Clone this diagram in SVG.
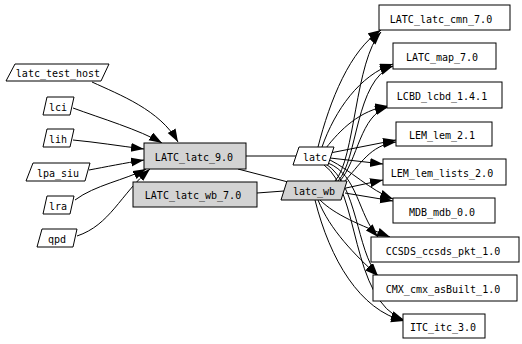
<svg xmlns="http://www.w3.org/2000/svg" width="522" height="344" viewBox="0 0 522 344">
<style>
.n{fill:#fff;stroke:#000;stroke-width:1}
.g{fill:#d3d3d3;stroke:#000;stroke-width:1}
text{font-family:"DejaVu Sans Mono","Liberation Mono",monospace;font-size:10px;fill:#000;text-anchor:middle}
.e{fill:none;stroke:#000;stroke-width:1}
.a{marker-end:url(#ah)}
</style>
<defs>
<marker id="ah" markerUnits="userSpaceOnUse" markerWidth="14" markerHeight="10" refX="13" refY="4.5" orient="auto">
<path d="M0,0 L13,4.5 L0,9 z" fill="#000"/>
</marker>
</defs>
<rect width="522" height="344" fill="#fff"/>
<g id="connectors">
<path class="e a" d="M92,82 C120,95 160,110 178,142"/>
<path class="e a" d="M73,108 C100,118 140,130 162,143"/>
<path class="e a" d="M73,140 C95,142 120,146 144,149"/>
<path class="e a" d="M89,170 C105,167 125,163 144,160"/>
<path class="e a" d="M75,200 C95,185 125,180 146,169"/>
<path class="e a" d="M77,236 C110,225 120,195 150,169"/>
<path class="e" d="M246,156 L296,156"/>
<path class="e" d="M238,169 L288,182"/>
<path class="e" d="M257,193 L284,191"/>
<path class="e a" d="M318,147 C330,100 350,50 381,30"/>
<path class="e a" d="M322,147 C335,110 360,75 393,64"/>
<path class="e a" d="M326,148 C340,130 360,110 388,106"/>
<path class="e a" d="M330,153 L396,140"/>
<path class="e a" d="M330,158 L383,164"/>
<path class="e a" d="M330,160 C350,170 370,190 393,199"/>
<path class="e a" d="M328,163 C358,175 358,215 378,237"/>
<path class="e a" d="M326,164 C358,185 356,250 378,276"/>
<path class="e a" d="M324,165 C360,190 350,300 404,320"/>
<path class="e a" d="M335,181 C355,160 355,60 381,32"/>
<path class="e a" d="M338,181 C358,160 355,80 393,66"/>
<path class="e a" d="M340,181 C358,160 360,115 388,107"/>
<path class="e a" d="M343,183 C360,165 370,145 396,142"/>
<path class="e a" d="M346,188 L383,180"/>
<path class="e a" d="M345,193 L393,201"/>
<path class="e a" d="M320,200 C335,215 360,225 390,237"/>
<path class="e a" d="M318,200 C330,230 355,255 378,276"/>
<path class="e a" d="M315,200 C330,260 360,310 404,321"/>
</g>
<g id="latc_test_host"><polygon class="n" points="15,64 109,64 101,81 6,81"/><text x="58" y="77">latc_test_host</text></g>
<g id="lci"><polygon class="n" points="47,97 74,97 70,115 43,115"/><text x="58" y="111">lci</text></g>
<g id="lih"><polygon class="n" points="47,129 74,129 70,147 43,147"/><text x="58" y="143">lih</text></g>
<g id="lpa_siu"><polygon class="n" points="33,163 90,163 85,181 26,181"/><text x="58" y="177">lpa_siu</text></g>
<g id="lra"><polygon class="n" points="47,196 74,196 70,214 43,214"/><text x="58" y="210">lra</text></g>
<g id="qpd"><polygon class="n" points="42,229 77,229 73,247 37,247"/><text x="57" y="243">qpd</text></g>
<g id="LATC_latc_9.0"><rect class="g" x="144" y="143" width="102" height="26"/><text x="194" y="161">LATC_latc_9.0</text></g>
<g id="LATC_latc_wb_7.0"><rect class="g" x="133" y="182" width="124" height="25"/><text x="193" y="199">LATC_latc_wb_7.0</text></g>
<g id="latc"><polygon class="n" points="299,147 334,147 328,165 293,165"/><text x="315" y="161">latc</text></g>
<g id="latc_wb"><polygon class="g" points="287,181 347,181 341,200 281,200"/><text x="314" y="195">latc_wb</text></g>
<g id="LATC_latc_cmn_7.0"><rect class="n" x="379" y="5" width="131" height="25"/><text x="441" y="22.5">LATC_latc_cmn_7.0</text></g>
<g id="LATC_map_7.0"><rect class="n" x="393" y="43" width="103" height="26"/><text x="442" y="61">LATC_map_7.0</text></g>
<g id="LCBD_lcbd_1.4.1"><rect class="n" x="387" y="82" width="115" height="26"/><text x="442" y="100">LCBD_lcbd_1.4.1</text></g>
<g id="LEM_lem_2.1"><rect class="n" x="396" y="122" width="96" height="24"/><text x="442" y="139">LEM_lem_2.1</text></g>
<g id="LEM_lem_lists_2.0"><rect class="n" x="383" y="159" width="123" height="26"/><text x="442" y="177">LEM_lem_lists_2.0</text></g>
<g id="MDB_mdb_0.0"><rect class="n" x="393" y="198" width="102" height="25"/><text x="442" y="215.5">MDB_mdb_0.0</text></g>
<g id="CCSDS_ccsds_pkt_1.0"><rect class="n" x="371" y="237" width="148" height="25"/><text x="443" y="254.5">CCSDS_ccsds_pkt_1.0</text></g>
<g id="CMX_cmx_asBuilt_1.0"><rect class="n" x="373" y="275" width="144" height="26"/><text x="443" y="293">CMX_cmx_asBuilt_1.0</text></g>
<g id="ITC_itc_3.0"><rect class="n" x="403" y="314" width="82" height="24"/><text x="443" y="331">ITC_itc_3.0</text></g>
</svg>
